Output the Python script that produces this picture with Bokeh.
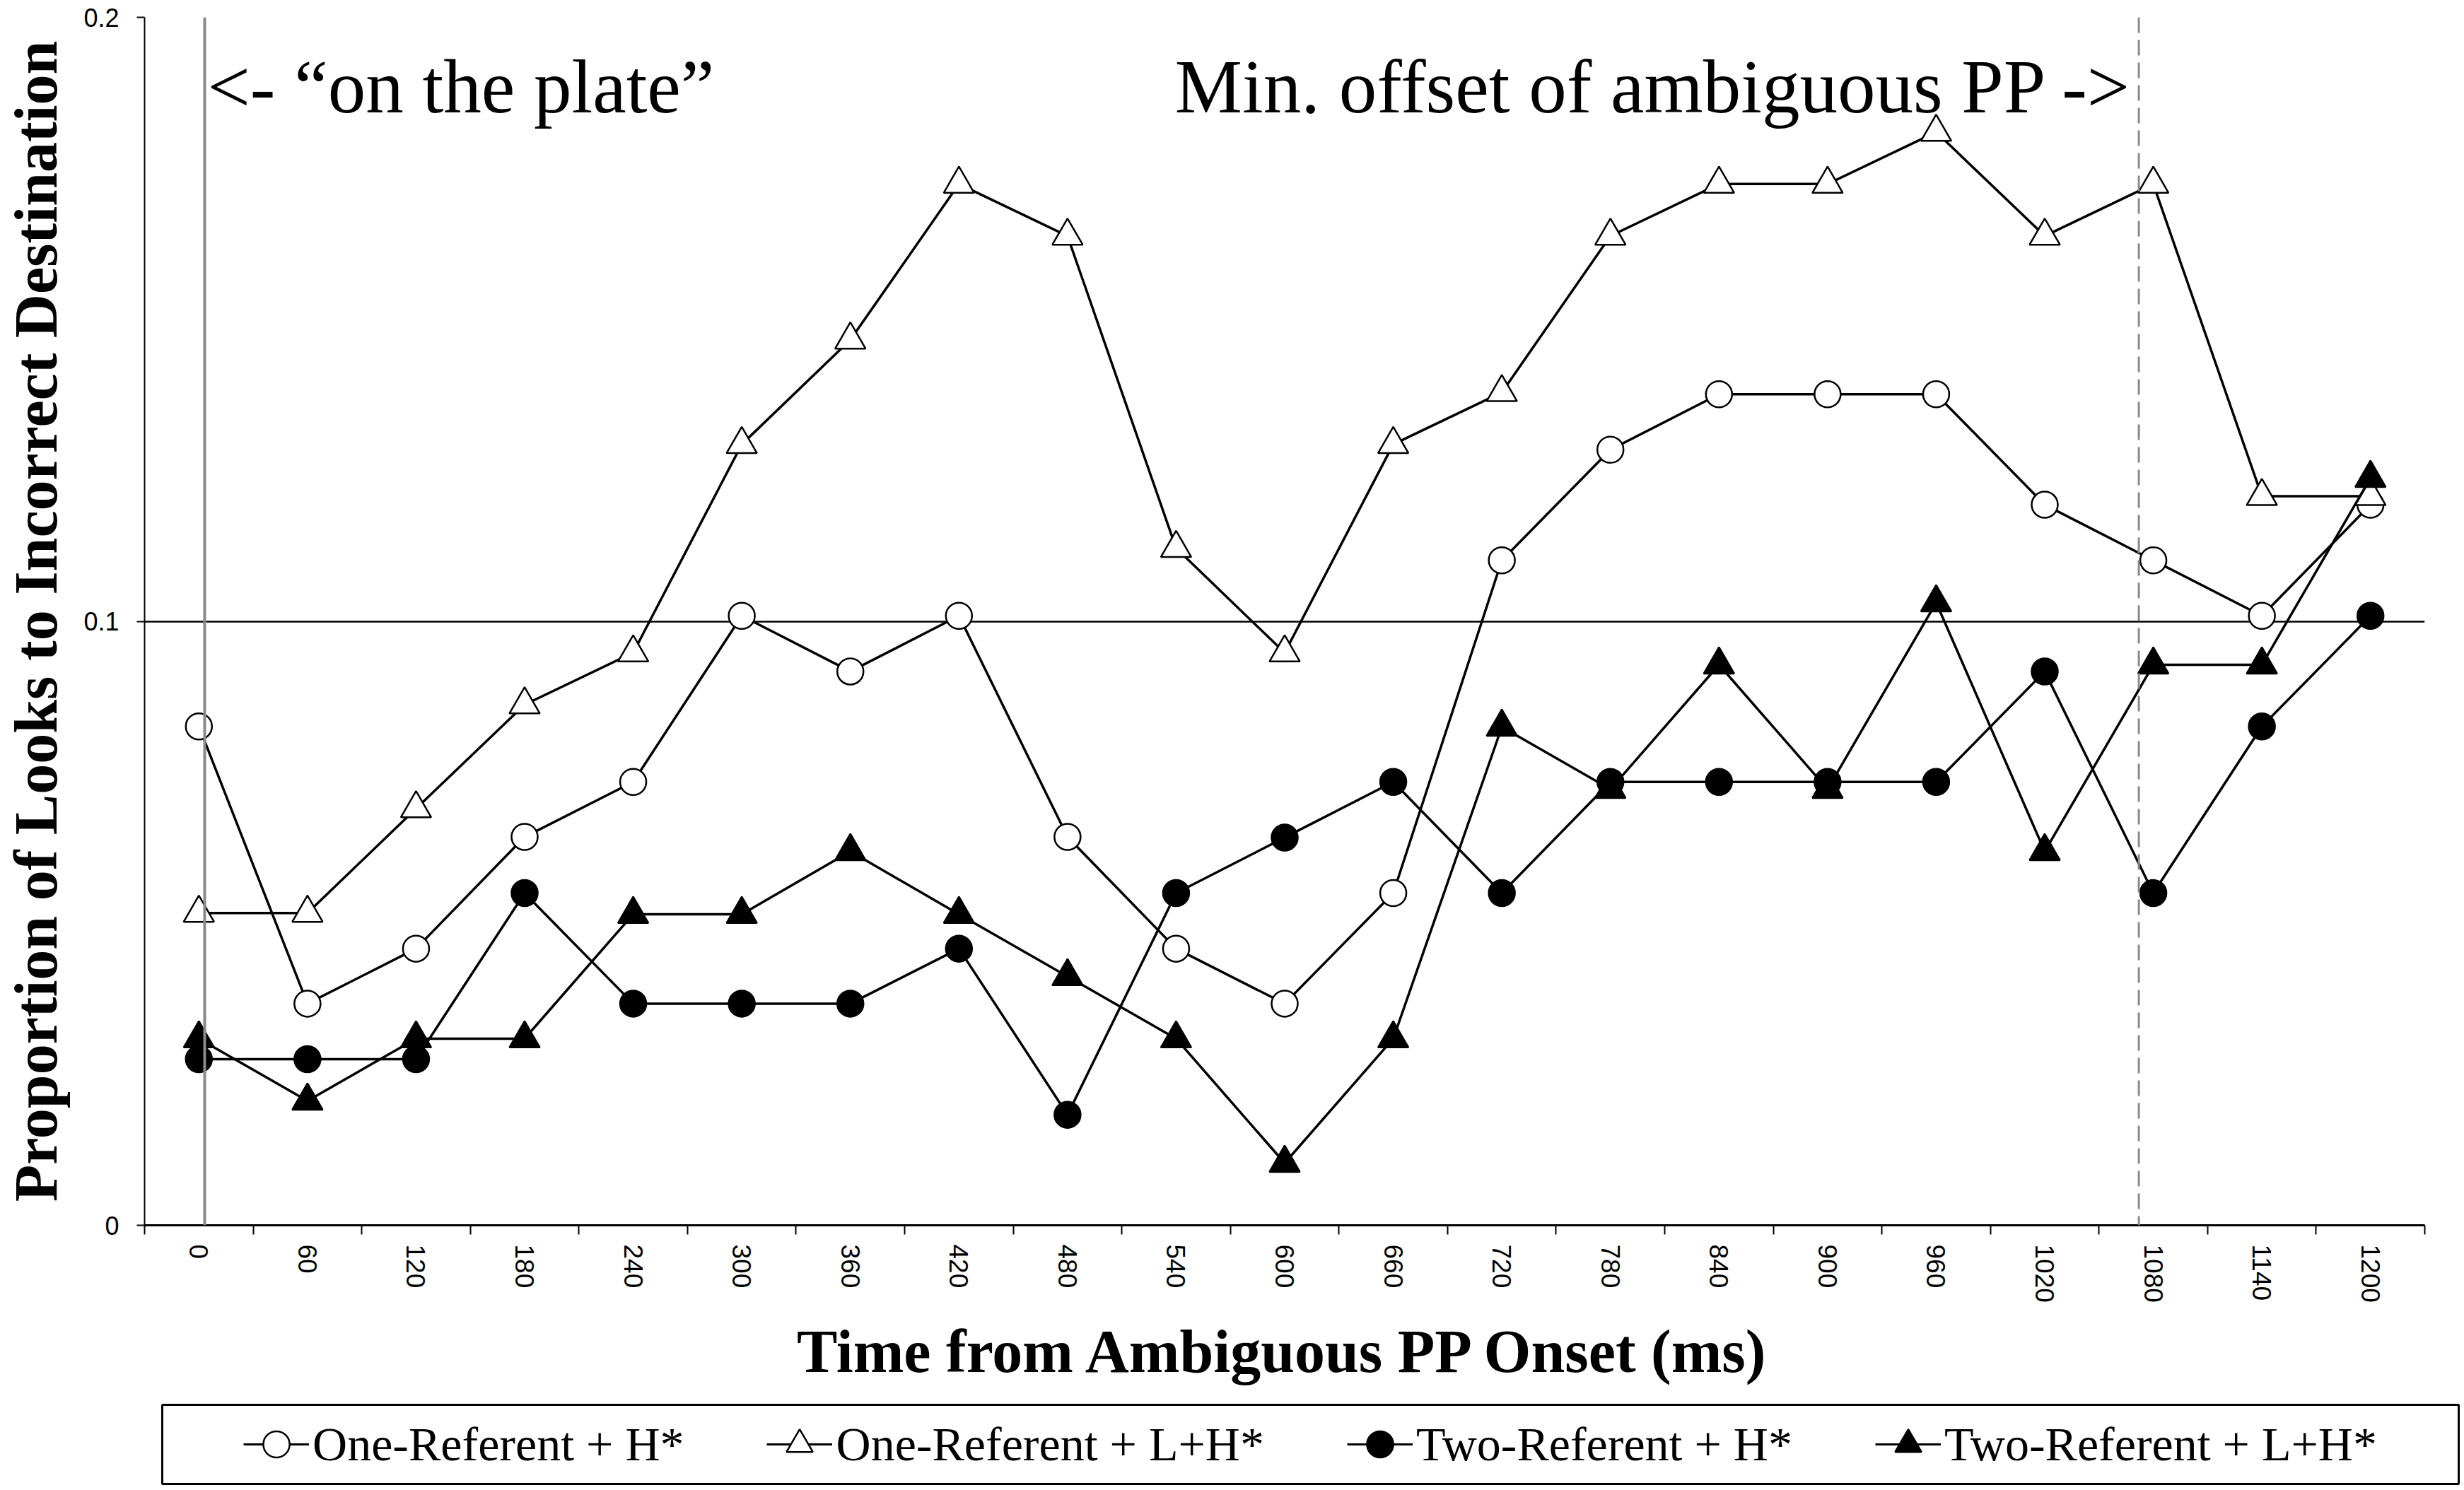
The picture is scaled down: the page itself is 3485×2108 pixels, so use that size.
from bokeh.plotting import figure
from bokeh.models import (Range1d, FixedTicker, Span, Legend, LegendItem,
                          CustomJSTickFormatter, Label)
from bokeh.embed import file_html
from bokeh.resources import INLINE

# ---------------- data ----------------
times = [0, 60, 120, 180, 240, 300, 360, 420, 480, 540, 600,
         660, 720, 780, 840, 900, 960, 1020, 1080, 1140, 1200]

one_ref_h = [0.0826, 0.0367, 0.0458, 0.0643, 0.0734, 0.1009, 0.0917, 0.1009, 0.0643, 0.0458, 0.0367,
             0.0550, 0.1101, 0.1284, 0.1376, 0.1376, 0.1376, 0.1193, 0.1101, 0.1009, 0.1193]
one_ref_lh = [0.0517, 0.0517, 0.0690, 0.0862, 0.0948, 0.1293, 0.1466, 0.1724, 0.1638, 0.1121, 0.0948,
              0.1293, 0.1379, 0.1638, 0.1724, 0.1724, 0.1810, 0.1638, 0.1724, 0.1207, 0.1207]
two_ref_h = [0.0275, 0.0275, 0.0275, 0.0550, 0.0367, 0.0367, 0.0367, 0.0458, 0.0183, 0.0550, 0.0642,
             0.0734, 0.0550, 0.0734, 0.0734, 0.0734, 0.0734, 0.0917, 0.0550, 0.0826, 0.1009]
two_ref_lh = [0.0309, 0.0206, 0.0309, 0.0309, 0.0515, 0.0515, 0.0619, 0.0515, 0.0412, 0.0309, 0.0103,
              0.0309, 0.0825, 0.0722, 0.0928, 0.0722, 0.1031, 0.0619, 0.0928, 0.0928, 0.1237]

series_names = ["One-Referent + H*", "One-Referent + L+H*", "Two-Referent + H*", "Two-Referent + L+H*"]
series_values = [one_ref_h, one_ref_lh, two_ref_h, two_ref_lh]
series_markers = ["circle", "triangle", "circle", "triangle"]
series_fills = ["white", "white", "black", "black"]

y_ticks = [0, 0.1, 0.2]
plate_onset_ms = 3.2          # "on the plate" reference line
min_offset_ms = 1072          # min. offset of ambiguous PP
x_title = "Time from Ambiguous PP Onset (ms)"
y_title = "Proportion of Looks to Incorrect Destination"
note_left = "<- \u201con the plate\u201d"
note_right = "Min. offset of ambiguous PP ->"

SERIF = "Liberation Serif"
SANS = "Liberation Sans"

# ---------------- geometry ----------------
FRAME_L, FRAME_T, FRAME_W, FRAME_H = 202, 24, 3227, 1709
FIG_W, FIG_H = 3480, 1985
half_step = (times[1] - times[0]) / 2
x_lo, x_hi = times[0] - half_step, times[-1] + half_step
px_per_ms = FRAME_W / (x_hi - x_lo)
px_per_y = FRAME_H / (y_ticks[-1] - y_ticks[0])

p = figure(width=FIG_W, height=FIG_H, output_backend="svg", toolbar_location=None,
           x_range=Range1d(x_lo, x_hi), y_range=Range1d(y_ticks[0], y_ticks[-1]),
           min_border_left=FRAME_L, min_border_right=FIG_W - FRAME_L - FRAME_W,
           min_border_top=FRAME_T, min_border_bottom=FIG_H - FRAME_T - FRAME_H)
p.outline_line_color = None
p.background_fill_color = "white"
p.border_fill_color = "white"

# x axis: labels at category centres, ticks between categories
xa = p.xaxis[0]
xa.ticker = FixedTicker(ticks=times, minor_ticks=[t - half_step for t in times] + [x_hi])
xa.major_label_orientation = "vertical"
xa.major_tick_line_color = None
xa.major_tick_in = 0
xa.major_tick_out = 13
xa.minor_tick_in = 0
xa.minor_tick_out = 13
xa.minor_tick_line_color = "black"
xa.minor_tick_line_width = 2
xa.axis_line_color = "black"
xa.axis_line_width = 3
xa.major_label_text_font = SANS
xa.major_label_text_font_size = "37px"
xa.major_label_text_color = "black"
xa.major_label_standoff = 14
xa.axis_label = x_title
xa.axis_label_text_font = SERIF
xa.axis_label_text_font_style = "bold"
xa.axis_label_text_font_size = "86px"
xa.axis_label_text_color = "black"
xa.axis_label_standoff = 18

ya = p.yaxis[0]
ya.ticker = FixedTicker(ticks=y_ticks)
ya.formatter = CustomJSTickFormatter(code="return tick == 0 ? '0' : tick.toFixed(1);")
ya.minor_tick_line_color = None
ya.major_tick_in = 0
ya.major_tick_out = 11
ya.major_tick_line_width = 2
ya.major_tick_line_color = "black"
ya.axis_line_color = "black"
ya.axis_line_width = 2
ya.major_label_text_font = SANS
ya.major_label_text_font_size = "36px"
ya.major_label_text_color = "black"
ya.major_label_standoff = 25
ya.axis_label = y_title
ya.axis_label_text_font = SERIF
ya.axis_label_text_font_style = "bold"
ya.axis_label_text_font_size = "86px"
ya.axis_label_text_color = "black"
ya.axis_label_standoff = 16

p.xgrid.visible = False
p.ygrid[0].ticker = FixedTicker(ticks=y_ticks[1:])
p.ygrid.grid_line_color = "black"
p.ygrid.grid_line_width = 2.5

p.add_layout(Span(location=plate_onset_ms, dimension="height", line_color="#8a8a8a", line_width=4))
p.add_layout(Span(location=min_offset_ms, dimension="height", line_color="#8a8a8a",
                  line_width=3, line_dash="22 10"))

# annotation text: top of the text box ~39 px below the frame top
text_y = y_ticks[-1] - 39 / px_per_y
p.add_layout(Label(x=plate_onset_ms + 4 / px_per_ms, y=text_y, text=note_left,
                   text_font=SERIF, text_font_size="107px", text_color="black",
                   text_align="left", text_baseline="top"))
p.add_layout(Label(x=min_offset_ms - 9 / px_per_ms, y=text_y, text=note_right,
                   text_font=SERIF, text_font_size="107px", text_color="black",
                   text_align="right", text_baseline="top"))

for vals, mk, fill in zip(series_values, series_markers, series_fills):
    p.line(times, vals, line_color="black", line_width=3.5)
    p.scatter(times, vals, marker=mk, size=37 if mk == "circle" else 43,
              fill_color=fill, line_color="black", line_width=2.5)

# ---------------- legend box (separate root, so frames are not aligned) ----------------
LBOX_L, LBOX_W = 229, 3248
lf = figure(width=FIG_W, height=117, output_backend="svg", toolbar_location=None,
            x_range=Range1d(0, 1), y_range=Range1d(0, 1),
            x_axis_type=None, y_axis_type=None,
            min_border_left=LBOX_L, min_border_right=FIG_W - LBOX_L - LBOX_W,
            min_border_top=2, min_border_bottom=3)
lf.outline_line_color = "black"
lf.outline_line_width = 3
lf.background_fill_color = "white"
lf.border_fill_color = "white"
lf.xgrid.visible = False
lf.ygrid.visible = False

items = []
for name, mk, fill in zip(series_names, series_markers, series_fills):
    # off-screen point: only the legend swatch is visible
    r1 = lf.line([-5, -4], [-5, -4], line_color="black", line_width=3)
    r2 = lf.scatter([-5], [-5], marker=mk, fill_color=fill, line_color="black", line_width=2.5)
    items.append(LegendItem(label=name, renderers=[r1, r2]))

legend = Legend(items=items, orientation="horizontal", location="center",
                spacing=117, padding=0, margin=0, glyph_width=93, glyph_height=96,
                label_standoff=5, label_text_font=SERIF, label_text_font_size="68px",
                label_text_color="black", border_line_color=None, background_fill_alpha=0)
lf.add_layout(legend)

open("out.html", "w").write(file_html([p, lf], INLINE, title="Looks to Incorrect Destination"))
